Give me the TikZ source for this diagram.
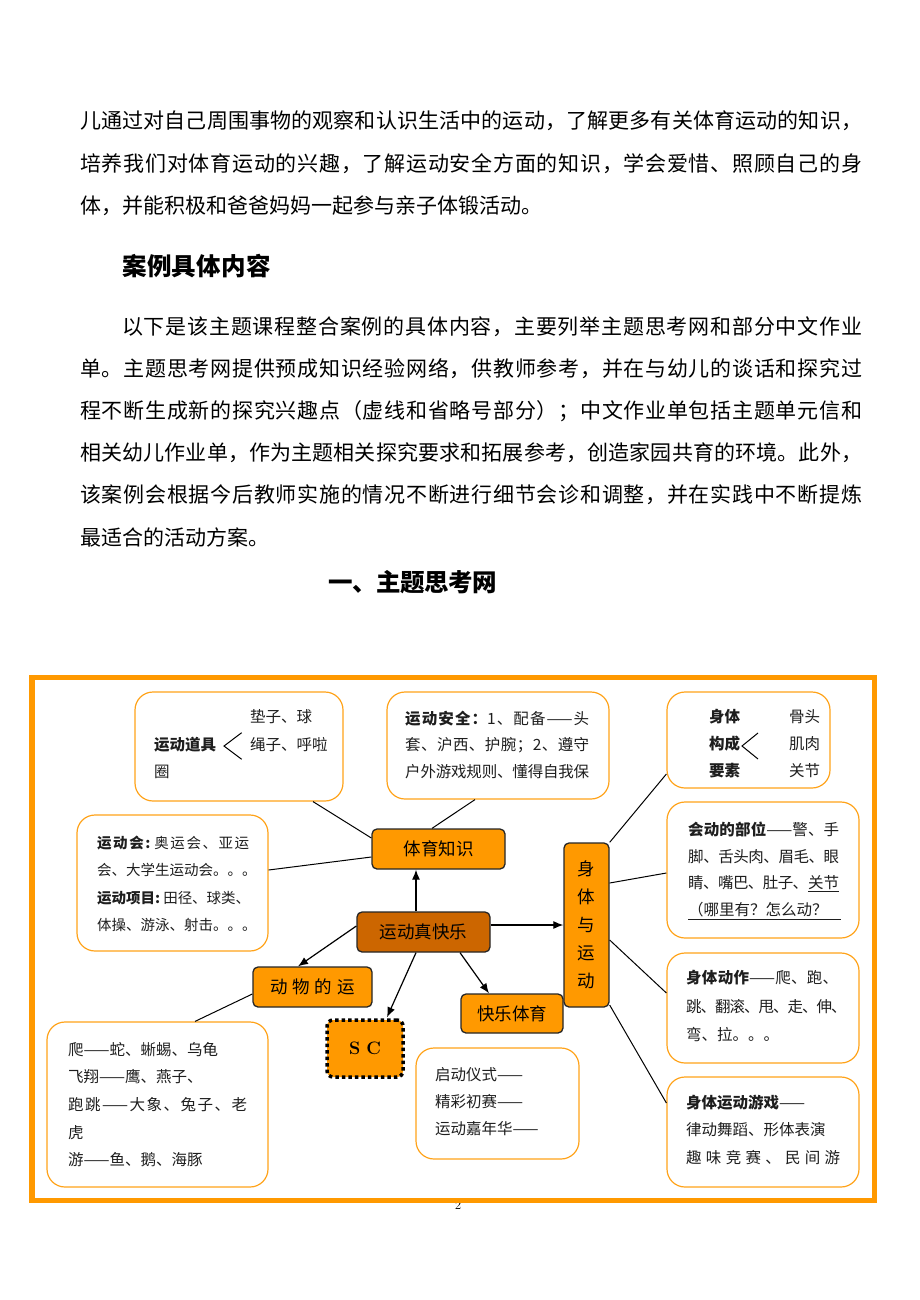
\documentclass[tikz,border=0pt]{standalone}
\usepackage{fontspec}
\newfontfamily\cjk{Noto Sans CJK SC}
\usetikzlibrary{arrows.meta}
% inter-character glue for CJK text so that lines can be justified
\XeTeXinterchartokenstate=1
\newXeTeXintercharclass\cjkcls
\makeatletter
\count@="4E00 \loop \XeTeXcharclass\count@=\cjkcls \ifnum\count@<"9FFF \advance\count@ 1 \repeat
\count@="3000 \loop \XeTeXcharclass\count@=\cjkcls \ifnum\count@<"303F \advance\count@ 1 \repeat
\count@="FF00 \loop \XeTeXcharclass\count@=\cjkcls \ifnum\count@<"FFEF \advance\count@ 1 \repeat
\makeatother
\XeTeXinterchartoks\cjkcls\cjkcls={\hskip0pt plus 3pt minus 1pt\relax}
\XeTeXinterchartoks\cjkcls 0={\hskip0pt plus 3pt minus 1pt\relax}
\XeTeXinterchartoks 0\cjkcls={\hskip0pt plus 3pt minus 1pt\relax}
\definecolor{nodeor}{RGB}{255,153,0}
\definecolor{darkor}{RGB}{204,102,0}
\definecolor{boxor}{RGB}{255,163,26}
\definecolor{frameor}{RGB}{255,153,0}
\definecolor{txtc}{RGB}{30,30,30}
\newcommand\fl[1]{\makebox[782pt][s]{#1}}
\newcommand\jw[2]{\makebox[#1pt][s]{#2}}
\begin{document}
\begin{tikzpicture}[x=1pt,y=-1pt,
  body/.style={anchor=west,inner sep=0pt,text=black,font=\cjk\fontsize{21}{21}\selectfont},
  head/.style={anchor=west,inner sep=0pt,text=black,font=\cjk\bfseries\fontsize{24.5}{24.5}\selectfont},
  wbox/.style={draw=boxor,line width=1.2pt,rounded corners=18pt,fill=white,inner sep=0pt},
  obox/.style={draw=black!85,line width=1.3pt,fill=nodeor,rounded corners=5pt,inner sep=0pt,
    font=\cjk\fontsize{17.5}{17.5}\selectfont},
  bt/.style={anchor=west,inner sep=0pt,text=txtc,font=\cjk\fontsize{15.5}{15.5}\selectfont},
  bts/.style={anchor=west,inner sep=0pt,text=txtc,font=\cjk\fontsize{14.5}{14.5}\selectfont},
  arr/.style={-{Latex[length=10pt,width=8pt]},line width=1.2pt,black},
  lnk/.style={line width=1pt,black},
  chev/.style={line width=1pt,black}
]
\useasboundingbox (0,0) rectangle (920,1300);
\fill[white] (0,0) rectangle (920,1300);

% ---------- body text ----------
\node[body] (t1) at (80,121) {\fl{儿通过对自己周围事物的观察和认识生活中的运动，了解更多有关体育运动的知识，}};
\node[body] (t2) at (80,164) {\fl{培养我们对体育运动的兴趣，了解运动安全方面的知识，学会爱惜、照顾自己的身}};
\node[body] (t3) at (80,206) {体，并能积极和爸爸妈妈一起参与亲子体锻活动。};
\node[head] (h1) at (122,266) {\makebox[149pt][s]{案例具体内容}};
\node[body] (t4) at (122,327) {\makebox[740pt][s]{以下是该主题课程整合案例的具体内容，主要列举主题思考网和部分中文作业}};
\node[body] (t5) at (80,369) {\fl{单。主题思考网提供预成知识经验网络，供教师参考，并在与幼儿的谈话和探究过}};
\node[body] (t6) at (80,411) {\fl{程不断生成新的探究兴趣点（虚线和省略号部分）；中文作业单包括主题单元信和}};
\node[body] (t7) at (80,453) {\fl{相关幼儿作业单，作为主题相关探究要求和拓展参考，创造家园共育的环境。此外，}};
\node[body] (t8) at (80,495) {\fl{该案例会根据今后教师实施的情况不断进行细节会诊和调整，并在实践中不断提炼}};
\node[body] (t9) at (80,537) {最适合的活动方案。};
\node[head] (h2) at (328,582) {\makebox[169pt][s]{一、主题思考网}};

% ---------- page number and frame ----------
\node[inner sep=0pt,font=\fontsize{13}{13}\selectfont] (pg) at (458,1205) {2};
\draw[frameor,line width=5.5pt] (32,677.5) rectangle (874.5,1200.5);

% ---------- white boxes ----------
\node[wbox,minimum width=208pt,minimum height=109pt] (b1) at (239,746.5) {};
\node[wbox,minimum width=222pt,minimum height=107pt] (b2) at (498,745.5) {};
\node[wbox,minimum width=163pt,minimum height=96pt] (b3) at (748.5,740) {};
\node[wbox,minimum width=191pt,minimum height=136pt] (b4) at (172.5,883) {};
\node[wbox,minimum width=192pt,minimum height=136pt] (b5) at (763,870) {};
\node[wbox,minimum width=192pt,minimum height=110pt] (b6) at (763,1008) {};
\node[wbox,minimum width=192pt,minimum height=110pt] (b7) at (763,1132) {};
\node[wbox,minimum width=221pt,minimum height=165pt] (b8) at (157.5,1104.5) {};
\node[wbox,minimum width=163pt,minimum height=111pt] (b9) at (497.5,1103.5) {};

% box 1
\node[bt] (b1a) at (250,717) {垫子、球};
\node[bt] (b1b) at (154,745) {\bfseries 运动道具};
\node[bt] (b1c) at (250,745) {绳子、呼啦};
\node[bt] (b1d) at (154,772) {圈};
\draw[chev] (241.7,732.7) -- (224,746) -- (241.7,759.3);
% box 2
\node[bt] (b2a) at (405,719) {\jw{184}{{\bfseries 运动安全：}1、配备——头}};
\node[bt] (b2b) at (405,745) {\jw{184}{套、沪西、护腕；2、遵守}};
\node[bt] (b2c) at (405,772) {\jw{184}{户外游戏规则、懂得自我保}};
% box 3
\node[bt] (b3a) at (709,717) {\bfseries 身体};
\node[bt] (b3b) at (709,744) {\bfseries 构成};
\node[bt] (b3c) at (709,771) {\bfseries 要素};
\node[bt] (b3d) at (789,717) {骨头};
\node[bt] (b3e) at (789,744) {肌肉};
\node[bt] (b3f) at (789,771) {关节};
\draw[chev] (758,733) -- (742,746) -- (758,759);
% box 4
\node[bts] (b4a) at (97,843) {\jw{152}{{\bfseries 运动会:}\hspace{4pt}奥运会、亚运}};
\node[bts] (b4b) at (97,870) {会、大学生运动会。。。};
\node[bts] (b4c) at (97,898) {\jw{153}{{\bfseries 运动项目:}\hspace{3pt}田径、球类、}};
\node[bts] (b4d) at (97,925) {体操、游泳、射击。。。};
% box 5
\node[bt] (b5a) at (688,829) {\jw{151}{{\bfseries 会动的部位}——警、手}};
\node[bt] (b5b) at (688,857) {\jw{151}{脚、舌头肉、眉毛、眼}};
\node[bt] (b5c) at (688,884) {\jw{151}{睛、嘴巴、肚子、\underline{关节}}};
\node[bt] (b5d) at (688,911) {\underline{\makebox[153pt][l]{（哪里有？怎么动？}}};
% box 6
\node[bt] (b6a) at (686,978) {\jw{152}{{\bfseries 身体动作}——爬、跑、}};
\node[bt] (b6b) at (686,1007) {\jw{154}{跳、翻滚、甩、走、伸、}};
\node[bt] (b6c) at (686,1034) {弯、拉。。。};
% box 7
\node[bt] (b7a) at (686,1103) {{\bfseries 身体运动游戏}——};
\node[bt] (b7b) at (686,1130) {律动舞蹈、形体表演};
\node[bt] (b7c) at (686,1158) {\jw{154}{趣味竞赛、民间游}};
% box 8
\node[bt] (b8a) at (68,1050) {爬——蛇、蜥蜴、乌龟};
\node[bt] (b8b) at (68,1077) {飞翔——鹰、燕子、};
\node[bt] (b8c) at (68,1105) {\jw{179}{跑跳——大象、兔子、老}};
\node[bt] (b8d) at (68,1133) {虎};
\node[bt] (b8e) at (68,1160) {游——鱼、鹅、海豚};
% box 9
\node[bt] (b9a) at (435,1075) {启动仪式——};
\node[bt] (b9b) at (435,1102) {精彩初赛——};
\node[bt] (b9c) at (435,1129) {运动嘉年华——};

% ---------- orange nodes ----------
\node[obox,minimum width=133pt,minimum height=40pt] (nA) at (438.5,849) {体育知识};
\node[obox,fill=darkor,minimum width=133pt,minimum height=40pt] (nB) at (423.5,932) {运动真快乐};
\node[obox,minimum width=45pt,minimum height=164pt,align=center,
  font=\cjk\fontsize{17.5}{28}\selectfont] (nC) at (586.5,925) {身\\体\\与\\运\\动};
\node[obox,minimum width=119pt,minimum height=40pt] (nD) at (312.5,987)
  {动\hspace{5pt}物\hspace{5pt}的\hspace{5pt}运};
\node[obox,minimum width=102pt,minimum height=39pt] (nE) at (512,1013.5) {快乐体育};
\node[draw=black,line width=3.5pt,dash pattern=on 3.5pt off 3pt,fill=nodeor,rounded corners=6pt,
  minimum width=76pt,minimum height=57pt,inner sep=0pt,
  font=\bfseries\fontsize{18}{18}\selectfont] (nF) at (365,1048.5) {S\hspace{6pt}C};

% ---------- connectors ----------
\draw[arr] ([xshift=-7.5pt]nB.north) -- ([xshift=-22.5pt]nA.south);
\draw[arr] ([yshift=7pt]nB.east) -- ([yshift=7pt]nB.east -| nC.west);
\draw[arr] ([yshift=6pt]nB.west) -- ([xshift=-14.5pt]nD.north);
\draw[arr] ([xshift=-7.5pt]nB.south) -- ([xshift=22pt,yshift=1pt]nF.north);
\draw[arr] ([xshift=36.5pt]nB.south) -- ([xshift=-23pt]nE.north);

\draw[lnk] ([xshift=74pt]b1.south) -- ([yshift=11pt]nA.west);
\draw[lnk] ([xshift=-23pt]b2.south) -- ([xshift=-6.5pt]nA.north);
\draw[lnk] ([yshift=13pt]b4.east) -- ([yshift=-8pt]nA.west);
\draw[lnk] (nC.north east) -- ([yshift=-34pt]b3.west);
\draw[lnk] ([yshift=42pt]nC.east) -- ([yshift=-3pt]b5.west);
\draw[lnk] ([yshift=-15pt]nC.east) -- ([yshift=15pt]b6.west);
\draw[lnk] ([yshift=-80pt]nC.east) -- ([yshift=29pt]b7.west);
\draw[lnk] ([yshift=-7pt]nD.west) -- ([xshift=37.5pt]b8.north);
\end{tikzpicture}
\end{document}
